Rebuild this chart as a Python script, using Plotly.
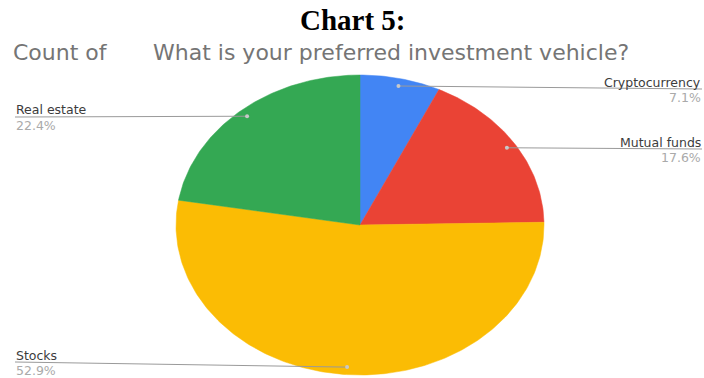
import numpy as np
import plotly.graph_objects as go

# Survey responses: preferred investment vehicle (clockwise from 12 o'clock)
categories = ["Cryptocurrency", "Mutual funds", "Stocks", "Real estate"]
counts = [6, 15, 45, 19]
colors = ["#4285F4", "#EA4335", "#FBBC04", "#34A853"]

W, H = 704, 378
cx, cy, rx, ry = 360, 225, 184, 150  # elliptical pie geometry (pixel space)

total = sum(counts)
shares = [c / total for c in counts]

fig = go.Figure()

start = 0.0
mids = []
for name, share, col in zip(categories, shares, colors):
    end = start + share
    t = np.linspace(start, end, max(8, int(share * 400))) * 2 * np.pi
    xs = np.concatenate([[cx], cx + rx * np.sin(t), [cx]])
    ys = np.concatenate([[cy], cy - ry * np.cos(t), [cy]])
    fig.add_trace(go.Scatter(x=xs, y=ys, fill="toself", fillcolor=col,
                             mode="lines", line=dict(color=col, width=0.5),
                             hoverinfo="skip", showlegend=False))
    mids.append((start + end) / 2 * 2 * np.pi)
    start = end

# Label placement: (side, text y, line end y)
label_pos = {
    "Cryptocurrency": ("right", 82, 89),
    "Mutual funds": ("right", 142, 149),
    "Stocks": ("left", 355, 362),
    "Real estate": ("left", 109, 117),
}

for name, share, ang in zip(categories, shares, mids):
    side, ty, ly = label_pos[name]
    dx = cx + 0.95 * rx * np.sin(ang)
    dy = cy - 0.95 * ry * np.cos(ang)
    ex = 702 if side == "right" else 15
    fig.add_trace(go.Scatter(x=[dx, ex], y=[dy, ly], mode="lines",
                             line=dict(color="#9a9a9a", width=1),
                             hoverinfo="skip", showlegend=False))
    fig.add_trace(go.Scatter(x=[dx], y=[dy], mode="markers",
                             marker=dict(color="#c8c8c8", size=4),
                             hoverinfo="skip", showlegend=False))
    anchor = "right" if side == "right" else "left"
    fig.add_annotation(x=ex, y=ty, text=name, showarrow=False, xanchor=anchor,
                       yanchor="middle", borderpad=0,
                       font=dict(family="DejaVu Sans", size=12.5, color="#3c3c3c"))
    fig.add_annotation(x=ex, y=ly + 8, text=f"{share * 100:.1f}%", showarrow=False,
                       xanchor=anchor, yanchor="middle", borderpad=0,
                       font=dict(family="DejaVu Sans", size=12.5, color="#aaaaaa"))

fig.add_annotation(x=353, y=20, text="<b>Chart 5:</b>", showarrow=False,
                   xanchor="center", yanchor="middle", borderpad=0,
                   font=dict(family="Liberation Serif", size=29, color="#000000"))
fig.add_annotation(x=12, y=52, text="Count of", showarrow=False,
                   xanchor="left", yanchor="middle", borderpad=0,
                   font=dict(family="DejaVu Sans", size=22, color="#757575"))
fig.add_annotation(x=152, y=52, text="What is your preferred investment vehicle?",
                   showarrow=False, xanchor="left", yanchor="middle", borderpad=0,
                   font=dict(family="DejaVu Sans", size=22, color="#757575"))

fig.update_layout(
    width=W, height=H,
    margin=dict(l=0, r=0, t=0, b=0),
    paper_bgcolor="white", plot_bgcolor="white",
    xaxis=dict(range=[0, W], visible=False, fixedrange=True),
    yaxis=dict(range=[H, 0], visible=False, fixedrange=True),
)

fig.write_html("out.html")
